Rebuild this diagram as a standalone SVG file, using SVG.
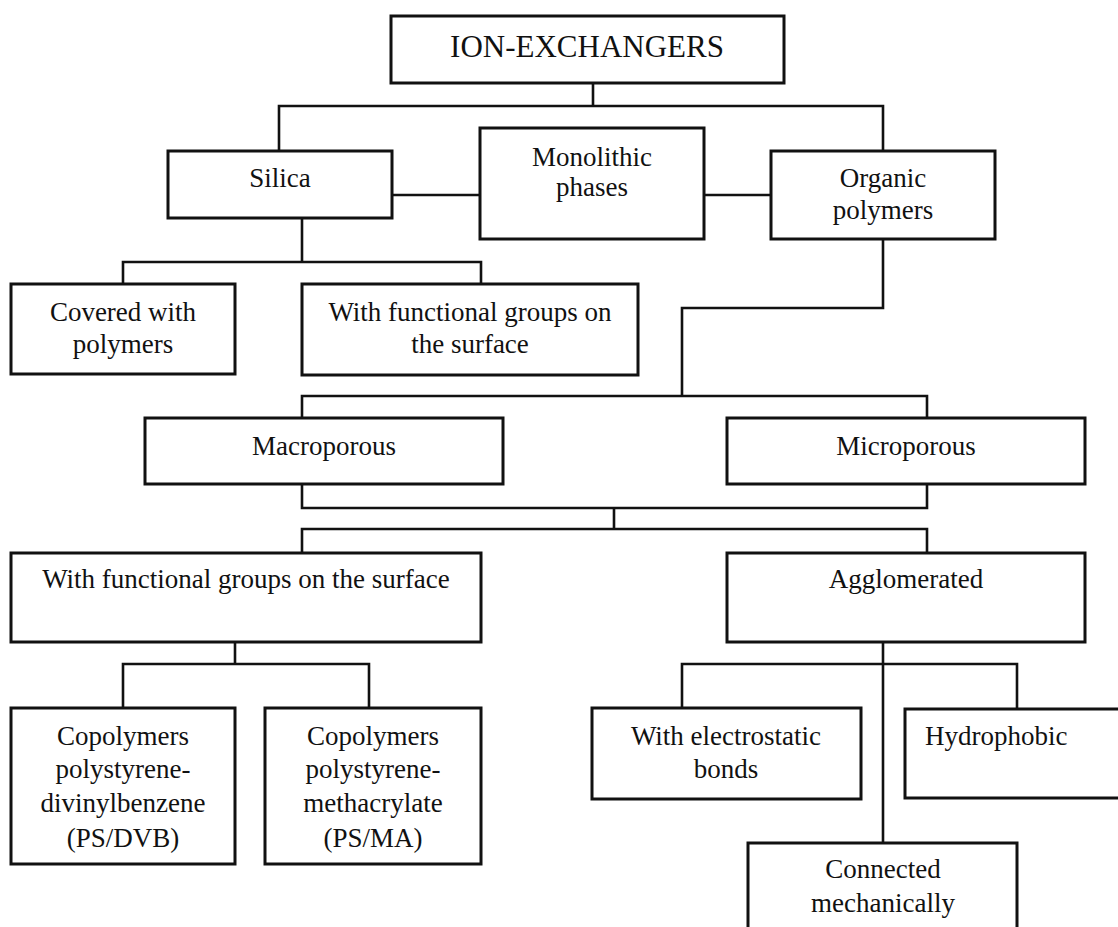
<svg xmlns="http://www.w3.org/2000/svg" width="1118" height="927" viewBox="0 0 1118 927">
  <style>
    .box { fill: #ffffff; stroke: #111111; stroke-width: 3; }
    .link { fill: none; stroke: #111111; stroke-width: 2.6; stroke-linejoin: miter; stroke-linecap: square; }
    text { font-family: "Liberation Serif", "Times New Roman", serif; font-size: 27px; fill: #111111; text-anchor: middle; }
    .title { font-size: 31px; }
  </style>
  <rect width="1118" height="927" fill="#ffffff"/>

  <!-- tree connectors -->
  <g id="connectors">
    <path class="link" d="M593 83 V106 M279 151 V106 H883 V151"/>
    <path class="link" d="M392 195 H480 M704 195 H771"/>
    <path class="link" d="M302 218 V262 M123 284 V262 H481 V284"/>
    <path class="link" d="M883 239 V308 H682 V396 M302 418 V396 H927 V418"/>
    <path class="link" d="M302 484 V508 H927 V484 M614 508 V529 M302 553 V529 H927 V553"/>
    <path class="link" d="M235 642 V664 M123 708 V664 H369 V708"/>
    <path class="link" d="M883 642 V843 M682 708 V664 H1017 V708"/>
  </g>

  <g id="ion-exchangers">
    <rect class="box" x="391" y="16" width="393" height="67"/>
    <text class="title" x="587" y="57">ION-EXCHANGERS</text>
  </g>

  <g id="silica">
    <rect class="box" x="168" y="151" width="224" height="67"/>
    <text x="280" y="187">Silica</text>
  </g>

  <g id="monolithic">
    <rect class="box" x="480" y="128" width="224" height="111"/>
    <text x="592" y="166">Monolithic</text>
    <text x="592" y="196">phases</text>
  </g>

  <g id="organic">
    <rect class="box" x="771" y="151" width="224" height="88"/>
    <text x="883" y="187">Organic</text>
    <text x="883" y="219">polymers</text>
  </g>

  <g id="silica-covered">
    <rect class="box" x="11" y="284" width="224" height="90"/>
    <text x="123" y="321">Covered with</text>
    <text x="123" y="353">polymers</text>
  </g>

  <g id="silica-functional">
    <rect class="box" x="302" y="284" width="336" height="91"/>
    <text x="470" y="321">With functional groups on</text>
    <text x="470" y="353">the surface</text>
  </g>

  <g id="macroporous">
    <rect class="box" x="145" y="418" width="358" height="66"/>
    <text x="324" y="455">Macroporous</text>
  </g>

  <g id="microporous">
    <rect class="box" x="727" y="418" width="358" height="66"/>
    <text x="906" y="455">Microporous</text>
  </g>

  <g id="polymer-functional">
    <rect class="box" x="11" y="553" width="470" height="89"/>
    <text x="246" y="588">With functional groups on the surface</text>
  </g>

  <g id="agglomerated">
    <rect class="box" x="727" y="553" width="358" height="89"/>
    <text x="906" y="588">Agglomerated</text>
  </g>

  <g id="ps-dvb">
    <rect class="box" x="11" y="708" width="224" height="156"/>
    <text x="123" y="745">Copolymers</text>
    <text x="123" y="778">polystyrene-</text>
    <text x="123" y="812">divinylbenzene</text>
    <text x="123" y="847">(PS/DVB)</text>
  </g>

  <g id="ps-ma">
    <rect class="box" x="265" y="708" width="216" height="156"/>
    <text x="373" y="745">Copolymers</text>
    <text x="373" y="778">polystyrene-</text>
    <text x="373" y="812">methacrylate</text>
    <text x="373" y="847">(PS/MA)</text>
  </g>

  <g id="electrostatic">
    <rect class="box" x="592" y="708" width="269" height="91"/>
    <text x="726" y="745">With electrostatic</text>
    <text x="726" y="778">bonds</text>
  </g>

  <g id="hydrophobic">
    <rect class="box" x="905" y="709" width="230" height="89"/>
    <text x="925" y="745" style="text-anchor: start">Hydrophobic</text>
  </g>

  <g id="mechanical">
    <rect class="box" x="748" y="843" width="269" height="100"/>
    <text x="883" y="878">Connected</text>
    <text x="883" y="912">mechanically</text>
  </g>
</svg>
